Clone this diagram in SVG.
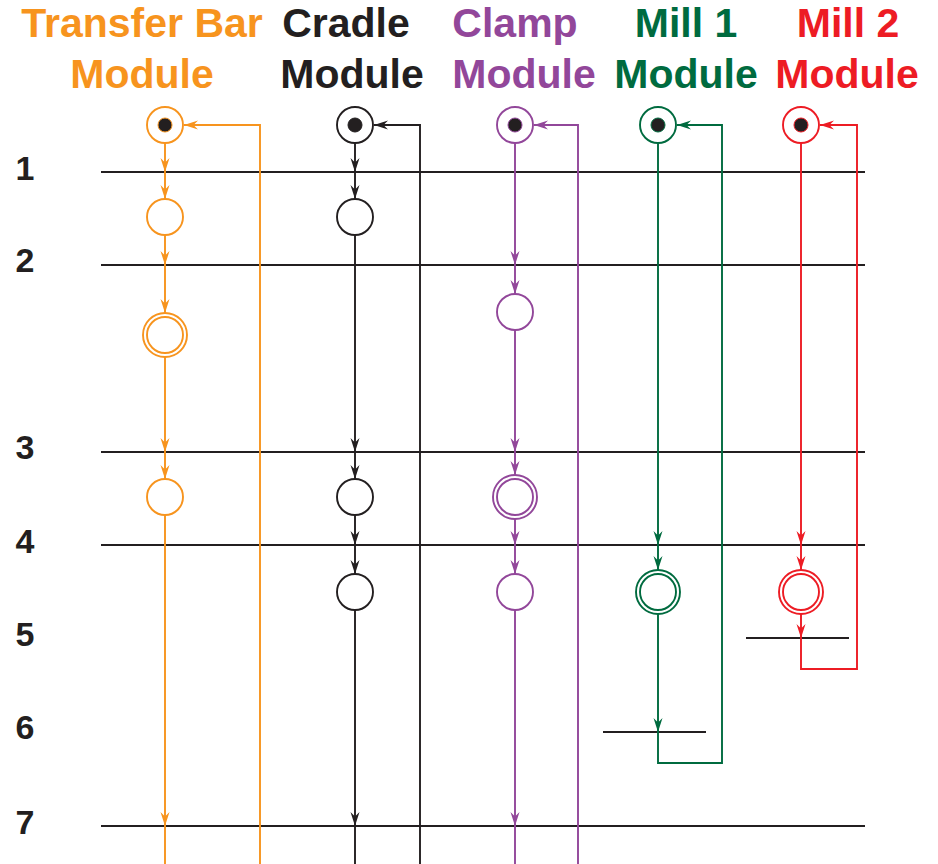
<svg xmlns="http://www.w3.org/2000/svg" xmlns:xlink="http://www.w3.org/1999/xlink" width="938" height="864" viewBox="0 0 938 864">
<style>
.hdr{font-family:"Liberation Sans",Arial,sans-serif;font-weight:bold;font-size:41px;text-anchor:middle}
.num{font-family:"Liberation Sans",Arial,sans-serif;font-weight:bold;font-size:34px;fill:#231F20;text-anchor:middle}
.rule{stroke:#231F20;stroke-width:2;fill:none}
.st{fill:#fff;stroke-width:1.9}
.ln{fill:none;stroke-width:1.9}
.dot{fill:#231F20}
.or{stroke:#F7941E;color:#F7941E}
.bk{stroke:#231F20;color:#231F20}
.pu{stroke:#92479A;color:#92479A}
.gr{stroke:#006B3F;color:#006B3F}
.rd{stroke:#ED1C24;color:#ED1C24}
</style>
<defs>
<path id="ad" d="M0,0 L-4.5,-14 L0,-9.5 L4.5,-14 Z" fill="currentColor" stroke="none"/>
<path id="al" d="M0,0 L14,-4.5 L9.5,0 L14,4.5 Z" fill="currentColor" stroke="none"/>
</defs>

<g id="headers">
<text class="hdr" x="142" y="37" fill="#F7941E">Transfer Bar</text>
<text class="hdr" x="142" y="88" fill="#F7941E">Module</text>
<text class="hdr" x="346" y="37" fill="#231F20">Cradle</text>
<text class="hdr" x="352" y="88" fill="#231F20">Module</text>
<text class="hdr" x="515" y="37" fill="#92479A">Clamp</text>
<text class="hdr" x="524" y="88" fill="#92479A">Module</text>
<text class="hdr" x="686" y="37" fill="#006B3F">Mill 1</text>
<text class="hdr" x="686" y="88" fill="#006B3F">Module</text>
<text class="hdr" x="848" y="37" fill="#ED1C24">Mill 2</text>
<text class="hdr" x="847" y="88" fill="#ED1C24">Module</text>
</g>

<g id="steps">
<text class="num" x="25" y="180">1</text>
<text class="num" x="25" y="272">2</text>
<text class="num" x="25" y="459">3</text>
<text class="num" x="25" y="553">4</text>
<text class="num" x="25" y="646">5</text>
<text class="num" x="25" y="739">6</text>
<text class="num" x="25" y="834">7</text>
<line class="rule" x1="101" y1="172" x2="865" y2="172"/>
<line class="rule" x1="101" y1="265" x2="865" y2="265"/>
<line class="rule" x1="101" y1="452" x2="865" y2="452"/>
<line class="rule" x1="101" y1="545" x2="865" y2="545"/>
<line class="rule" x1="746" y1="638" x2="849" y2="638"/>
<line class="rule" x1="603" y1="732" x2="706" y2="732"/>
<line class="rule" x1="101" y1="826" x2="865" y2="826"/>
</g>

<g id="connectors">
<g class="or">
<path class="ln" d="M165,143 V199 M165,235 V313 M165,357 V479 M165,515 V864"/>
<path class="ln" d="M260,864 V125 H184"/>
<use xlink:href="#ad" x="165" y="172"/>
<use xlink:href="#ad" x="165" y="199"/>
<use xlink:href="#ad" x="165" y="265"/>
<use xlink:href="#ad" x="165" y="313"/>
<use xlink:href="#ad" x="165" y="452"/>
<use xlink:href="#ad" x="165" y="479"/>
<use xlink:href="#ad" x="165" y="826"/>
<use xlink:href="#al" x="184" y="125"/>
</g>
<g class="bk">
<path class="ln" d="M355,143 V199 M355,235 V479 M355,515 V574 M355,610 V864"/>
<path class="ln" d="M420,864 V125 H374"/>
<use xlink:href="#ad" x="355" y="172"/>
<use xlink:href="#ad" x="355" y="199"/>
<use xlink:href="#ad" x="355" y="452"/>
<use xlink:href="#ad" x="355" y="479"/>
<use xlink:href="#ad" x="355" y="545"/>
<use xlink:href="#ad" x="355" y="574"/>
<use xlink:href="#ad" x="355" y="826"/>
<use xlink:href="#al" x="374" y="125"/>
</g>
<g class="pu">
<path class="ln" d="M515,143 V294 M515,330 V475 M515,519 V574 M515,610 V864"/>
<path class="ln" d="M578,864 V125 H534"/>
<use xlink:href="#ad" x="515" y="265"/>
<use xlink:href="#ad" x="515" y="294"/>
<use xlink:href="#ad" x="515" y="452"/>
<use xlink:href="#ad" x="515" y="475"/>
<use xlink:href="#ad" x="515" y="545"/>
<use xlink:href="#ad" x="515" y="574"/>
<use xlink:href="#ad" x="515" y="826"/>
<use xlink:href="#al" x="534" y="125"/>
</g>
<g class="gr">
<path class="ln" d="M658,143 V570"/>
<path class="ln" d="M658,614 V763 H722 V125 H677"/>
<use xlink:href="#ad" x="658" y="545"/>
<use xlink:href="#ad" x="658" y="570"/>
<use xlink:href="#ad" x="658" y="732"/>
<use xlink:href="#al" x="677" y="125"/>
</g>
<g class="rd">
<path class="ln" d="M801,143 V570"/>
<path class="ln" d="M801,614 V669 H857 V125 H820"/>
<use xlink:href="#ad" x="801" y="545"/>
<use xlink:href="#ad" x="801" y="570"/>
<use xlink:href="#ad" x="801" y="638"/>
<use xlink:href="#al" x="820" y="125"/>
</g>
</g>

<g id="tb-init" class="or"><circle class="st" cx="165" cy="125" r="18"/><circle class="dot" cx="165" cy="125" r="7"/></g>
<g id="tb-s1" class="or"><circle class="st" cx="165" cy="217" r="18"/></g>
<g id="tb-s2" class="or"><circle class="st" cx="165" cy="335" r="22"/><circle class="st" cx="165" cy="335" r="18"/></g>
<g id="tb-s3" class="or"><circle class="st" cx="165" cy="497" r="18"/></g>

<g id="cr-init" class="bk"><circle class="st" cx="355" cy="125" r="18"/><circle class="dot" cx="355" cy="125" r="7"/></g>
<g id="cr-s1" class="bk"><circle class="st" cx="355" cy="217" r="18"/></g>
<g id="cr-s2" class="bk"><circle class="st" cx="355" cy="497" r="18"/></g>
<g id="cr-s3" class="bk"><circle class="st" cx="355" cy="592" r="18"/></g>

<g id="cl-init" class="pu"><circle class="st" cx="515" cy="125" r="18"/><circle class="dot" cx="515" cy="125" r="7"/></g>
<g id="cl-s1" class="pu"><circle class="st" cx="515" cy="312" r="18"/></g>
<g id="cl-s2" class="pu"><circle class="st" cx="515" cy="497" r="22"/><circle class="st" cx="515" cy="497" r="18"/></g>
<g id="cl-s3" class="pu"><circle class="st" cx="515" cy="592" r="18"/></g>

<g id="m1-init" class="gr"><circle class="st" cx="658" cy="125" r="18"/><circle class="dot" cx="658" cy="125" r="7"/></g>
<g id="m1-s1" class="gr"><circle class="st" cx="658" cy="592" r="22"/><circle class="st" cx="658" cy="592" r="18"/></g>

<g id="m2-init" class="rd"><circle class="st" cx="801" cy="125" r="18"/><circle class="dot" cx="801" cy="125" r="7"/></g>
<g id="m2-s1" class="rd"><circle class="st" cx="801" cy="592" r="22"/><circle class="st" cx="801" cy="592" r="18"/></g>
</svg>
